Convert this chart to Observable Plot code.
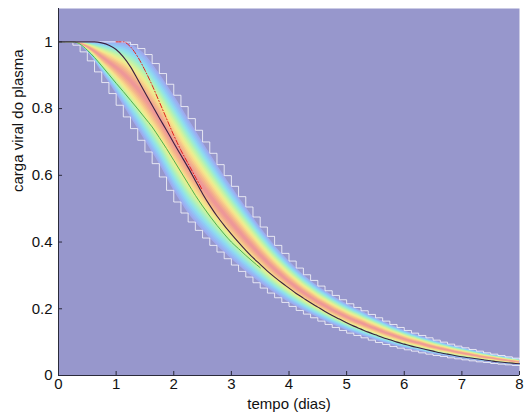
<!DOCTYPE html>
<html>
<head>
<meta charset="utf-8">
<script src="https://cdn.jsdelivr.net/npm/d3@7"></script>
<script src="https://cdn.jsdelivr.net/npm/@observablehq/plot@0.6"></script>
<style>
  html, body { margin: 0; padding: 0; background: #ffffff; }
  #chart { width: 532px; height: 420px; }
</style>
</head>
<body>
<div id="chart"></div>
<script>
// time grid (days), step 0.125
const tGrid = d3.range(0, 65).map(i => i * 0.125);

// lower edge of the simulated envelope
const lowerEdge = [1, 1, 0.998, 0.99, 0.97, 0.943, 0.91, 0.878, 0.845, 0.81, 0.775, 0.74, 0.705, 0.67, 0.635, 0.595,
  0.555, 0.52, 0.487, 0.46, 0.435, 0.412, 0.39, 0.37, 0.35, 0.331, 0.312, 0.295, 0.278, 0.262, 0.247, 0.233,
  0.219, 0.207, 0.195, 0.184, 0.173, 0.163, 0.153, 0.144, 0.135, 0.127, 0.12, 0.113, 0.106, 0.099, 0.093, 0.087,
  0.082, 0.077, 0.073, 0.068, 0.064, 0.06, 0.057, 0.053, 0.05, 0.047, 0.044, 0.041, 0.039, 0.036, 0.034, 0.032, 0.03];

// upper edge of the simulated envelope
const upperEdge = [1, 1, 1, 1, 1, 1, 1, 1, 1, 0.999, 0.992, 0.98, 0.962, 0.935, 0.905, 0.873,
  0.84, 0.806, 0.77, 0.735, 0.70, 0.666, 0.632, 0.599, 0.567, 0.536, 0.505, 0.475, 0.445, 0.417, 0.39, 0.366,
  0.343, 0.322, 0.302, 0.285, 0.268, 0.254, 0.24, 0.227, 0.215, 0.204, 0.194, 0.183, 0.173, 0.163, 0.153, 0.144,
  0.135, 0.127, 0.12, 0.113, 0.106, 0.1, 0.094, 0.088, 0.083, 0.078, 0.073, 0.068, 0.064, 0.06, 0.056, 0.052, 0.049];

// central (dark) curve
const medianCurve = [1, 1, 1, 1, 1, 1, 0.997, 0.99, 0.977, 0.955, 0.925, 0.887, 0.848, 0.81, 0.772, 0.735,
  0.697, 0.66, 0.623, 0.584, 0.545, 0.51, 0.478, 0.45, 0.424, 0.399, 0.375, 0.353, 0.333, 0.313, 0.295, 0.278,
  0.262, 0.246, 0.232, 0.218, 0.205, 0.192, 0.18, 0.169, 0.158, 0.148, 0.139, 0.13, 0.122, 0.114, 0.107, 0.1,
  0.094, 0.088, 0.083, 0.078, 0.073, 0.068, 0.064, 0.06, 0.056, 0.053, 0.05, 0.047, 0.044, 0.041, 0.039, 0.037, 0.035];

// green curve
const greenT = [0, 0.125, 0.25, 0.375, 0.5, 0.625, 0.75, 0.875, 1.0, 1.125, 1.25, 1.375, 1.5, 1.625, 1.75, 1.875,
  2.0, 2.125, 2.25, 2.375, 2.5, 2.625, 2.75, 2.875, 3.0, 3.125, 3.25, 3.375, 3.5];
const greenV = [1, 1, 1, 0.993, 0.975, 0.953, 0.928, 0.902, 0.876, 0.851, 0.825, 0.799, 0.772, 0.745, 0.713, 0.68,
  0.645, 0.61, 0.575, 0.54, 0.508, 0.478, 0.45, 0.424, 0.4, 0.38, 0.36, 0.341, 0.323];

// red dash-dot curve
const redT = [1.0, 1.125, 1.25, 1.375, 1.5, 1.625, 1.75, 1.875, 2.0, 2.125, 2.25, 2.375, 2.5];
const redV = [1, 1, 0.985, 0.955, 0.915, 0.87, 0.82, 0.77, 0.72, 0.675, 0.635, 0.595, 0.555];

// colour ramp of the envelope, outside -> centre
const bandStops = ["#9eaaee", "#92c2f8", "#8ce0f2", "#a2f0c6", "#ccf49e", "#f4f08e", "#f8d08a", "#f4ae8c", "#ee9898"];
const bandLevels = 16;

const xTicks = [0, 1, 2, 3, 4, 5, 6, 7, 8];
const yTicks = [0, 0.2, 0.4, 0.6, 0.8, 1];
const xLabel = "tempo (dias)";
const yLabel = "carga viral do plasma";

// tables
const rows = tGrid.map((t, i) => ({t, lo: lowerEdge[i], hi: upperEdge[i], med: medianCurve[i]}));
const green = greenT.map((t, i) => ({t, v: greenV[i]}));
const red = redT.map((t, i) => ({t, v: redV[i]}));
const ramp = d3.interpolateRgbBasis(bandStops);

const bandMarks = d3.range(bandLevels).map(k => {
  const f = 1 - k / bandLevels; // fraction of half-width
  return Plot.areaY(rows, {
    x: "t",
    y1: d => (d.lo + d.hi) / 2 - f * (d.hi - d.lo) / 2,
    y2: d => (d.lo + d.hi) / 2 + f * (d.hi - d.lo) / 2,
    fill: ramp(k / (bandLevels - 1)),
    curve: "monotone-x"
  });
});

const axisColor = "#2a2a3a";

const chart = Plot.plot({
  width: 532,
  height: 420,
  marginLeft: 58,
  marginRight: 13,
  marginTop: 8,
  marginBottom: 45,
  style: {fontFamily: "'Liberation Sans', Arial, sans-serif", fontSize: "15px", background: "#ffffff", color: "#111"},
  x: {domain: [0, 8], ticks: xTicks, tickSize: 0, tickPadding: 3, label: null, tickFormat: d => String(d)},
  y: {domain: [0, 1.1], ticks: yTicks, tickSize: 0, tickPadding: 6, label: null, tickFormat: d => String(d)},
  marks: [
    Plot.frame({fill: "#9797cc", stroke: null}),
    ...bandMarks,
    Plot.line(rows, {x: "t", y: "hi", stroke: "white", strokeWidth: 0.9, strokeOpacity: 0.85, curve: "step-after"}),
    Plot.line(rows, {x: "t", y: "lo", stroke: "white", strokeWidth: 0.9, strokeOpacity: 0.85, curve: "step-before"}),
    Plot.line(green, {x: "t", y: "v", stroke: "#4fb04f", strokeWidth: 1, curve: "monotone-x"}),
    Plot.line(red, {x: "t", y: "v", stroke: "#e02020", strokeWidth: 1, strokeDasharray: "5,2,1,2", curve: "monotone-x"}),
    Plot.line(rows, {x: "t", y: "med", stroke: "#3a1f40", strokeWidth: 1.1, curve: "monotone-x"}),
    Plot.ruleX(xTicks, {y1: 0, y2: 0.012, stroke: axisColor}),
    Plot.ruleY(yTicks, {x1: 0, x2: 0.07, stroke: axisColor}),
    Plot.ruleX([0], {stroke: axisColor}),
    Plot.ruleY([0], {stroke: axisColor}),
    Plot.text([xLabel], {frameAnchor: "bottom", dy: 33, fontSize: 15, fill: "#111"}),
    Plot.text([yLabel], {frameAnchor: "left", dx: -40, rotate: -90, fontSize: 15, fill: "#111"})
  ]
});
document.getElementById("chart").appendChild(chart);
</script>
</body>
</html>
